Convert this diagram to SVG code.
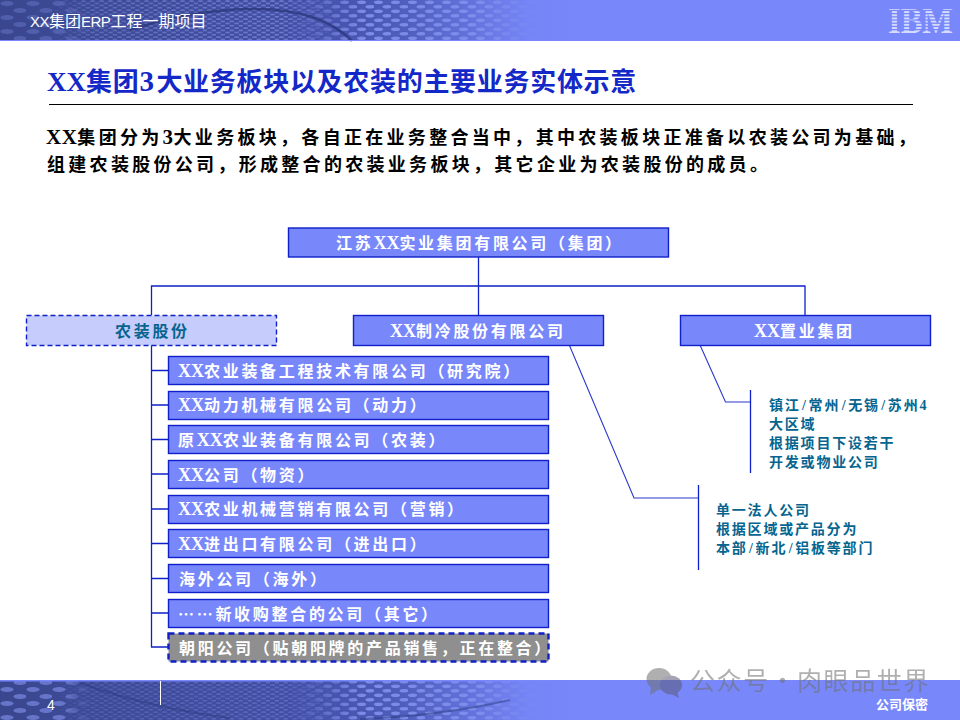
<svg xmlns="http://www.w3.org/2000/svg" width="960" height="720" viewBox="0 0 960 720">
<style>
text{font-family:"Liberation Serif","Noto Sans CJK SC",serif;font-weight:700}
.box{fill:#7888fb;stroke:#0f20c8;stroke-width:1.4}
.dash{fill:#c6ccfb;stroke:#0f20c8;stroke-width:1.4;stroke-dasharray:5 3}
.gray{fill:#8f8f8f;stroke:#0f20c8;stroke-width:2.4;stroke-dasharray:6 4}
.w{fill:#fff;font-size:16px;letter-spacing:2.7px}
.n{fill:#06658f;font-size:16px;letter-spacing:2.7px}
.x{font-size:18px;letter-spacing:0}
.t{fill:#06658f;font-size:14px;letter-spacing:1.8px}
.s{letter-spacing:2.6px}
.b{fill:#000;font-size:18px;letter-spacing:3.3px}
.bx{font-size:21px;letter-spacing:.5px}
.h{font-family:"Liberation Sans","Noto Sans CJK SC",sans-serif;font-weight:400;fill:#fff}
.l{font-size:15px;letter-spacing:-.5px}
.con{fill:none;stroke:#0f20c8;stroke-width:1.3}
.thin{fill:none;stroke:#2a38cc;stroke-width:1.1}
</style>
<defs>
<linearGradient id="bar" x1="0" x2="960" y1="0" y2="0" gradientUnits="userSpaceOnUse">
<stop offset="0" stop-color="#3a478f"/><stop offset=".3" stop-color="#414ea6"/><stop offset=".42" stop-color="#4f5dbc"/><stop offset=".55" stop-color="#7585f6"/><stop offset=".6" stop-color="#7888fb"/><stop offset="1" stop-color="#7888fb"/>
</linearGradient>
<linearGradient id="gl" x1="0" x2="90" y1="0" y2="0" gradientUnits="userSpaceOnUse"><stop offset="0" stop-color="#fff"/><stop offset=".7" stop-color="#fff"/><stop offset="1" stop-color="#000"/></linearGradient>
<linearGradient id="gm" x1="50" x2="340" y1="0" y2="0" gradientUnits="userSpaceOnUse"><stop offset="0" stop-color="#000"/><stop offset=".15" stop-color="#aaa"/><stop offset=".8" stop-color="#fff"/><stop offset="1" stop-color="#000"/></linearGradient>
<linearGradient id="gr" x1="290" x2="540" y1="0" y2="0" gradientUnits="userSpaceOnUse"><stop offset="0" stop-color="#000"/><stop offset=".3" stop-color="#fff"/><stop offset=".75" stop-color="#ccc"/><stop offset="1" stop-color="#000"/></linearGradient>
<mask id="ml"><rect width="960" height="720" fill="url(#gl)"/></mask>
<mask id="mm"><rect width="960" height="720" fill="url(#gm)"/></mask>
<mask id="mr"><rect width="960" height="720" fill="url(#gr)"/></mask>
<pattern id="big" width="26" height="14" patternUnits="userSpaceOnUse">
<ellipse cx="7" cy="3.500" rx="6.500" ry="2.500" fill="#8b9af5" fill-opacity=".55"/>
<ellipse cx="20" cy="10.500" rx="6.500" ry="2.500" fill="#8b9af5" fill-opacity=".55"/>
</pattern>
<pattern id="fine" width="9" height="4.500" patternUnits="userSpaceOnUse">
<ellipse cx="2.500" cy="1.100" rx="2.600" ry=".8" fill="#a3aff5" fill-opacity=".55"/>
<ellipse cx="7" cy="3.300" rx="2.600" ry=".8" fill="#a3aff5" fill-opacity=".55"/>
</pattern>
<pattern id="mid" width="17" height="9" patternUnits="userSpaceOnUse">
<ellipse cx="4.500" cy="2.300" rx="4.500" ry="1.800" fill="#8f9ef8" fill-opacity=".75"/>
<ellipse cx="13" cy="6.800" rx="4.500" ry="1.800" fill="#8f9ef8" fill-opacity=".75"/>
</pattern>
</defs>
<rect id="page" width="960" height="720" fill="#fff"/>
<g id="header">
<rect width="960" height="41" fill="url(#bar)"/>
<rect width="960" height="41" fill="url(#big)" mask="url(#ml)" opacity=".5"/>
<rect width="960" height="41" fill="url(#fine)" mask="url(#mm)"/>
<rect width="960" height="41" fill="url(#mid)" mask="url(#mr)"/>
<path d="M130 30Q190 10 250 9Q320 8 352 41" fill="none" stroke="#2a3678" stroke-width="2.500" stroke-opacity=".75"/>
<rect y="40" width="960" height="1" fill="#7888fb"/>
<text class="h" x="30" y="26.500" font-size="16"><tspan class="l">XX</tspan>集团<tspan class="l">ERP</tspan>工程一期项目</text>
<text x="888" y="32.500" font-size="36" fill="#d6dbff" textLength="65" lengthAdjust="spacingAndGlyphs">IBM</text>
<g fill="#7888fb"><rect x="886" y="9.800" width="70" height="1.300"/><rect x="886" y="13" width="70" height="1.300"/><rect x="886" y="16.200" width="70" height="1.300"/><rect x="886" y="19.400" width="70" height="1.300"/><rect x="886" y="22.600" width="70" height="1.300"/><rect x="886" y="25.800" width="70" height="1.300"/><rect x="886" y="29" width="70" height="1.300"/></g>
</g>
<g id="heading">
<text x="47" y="91" font-size="26" fill="#1428c8" letter-spacing=".7"><tspan font-size="27" letter-spacing="0">XX</tspan>集团<tspan font-size="29" letter-spacing="2.500">3</tspan>大业务板块以及农装的主要业务实体示意</text>
<rect x="49" y="104" width="864" height="1" fill="#000"/>
<text class="b" x="46" y="144"><tspan class="bx">XX</tspan>集团分为<tspan class="bx" letter-spacing="1">3</tspan>大业务板块，各自正在业务整合当中，其中农装板块正准备以农装公司为基础，</text>
<text class="b" x="47" y="171">组建农装股份公司，形成整合的农装业务板块，其它企业为农装股份的成员。</text>
</g>
<g id="connectors">
<path class="con" d="M478.500 257V315M151.500 315V286H805V315M151.500 345V647H168M151.500 370.500H168M151.500 405H168M151.500 439.500H168M151.500 474H168M151.500 509H168M151.500 543.500H168M151.500 578.500H168M151.500 613H168"/>
<path class="thin" d="M568 342L634 498H699"/>
<path class="thin" d="M700 345L725.500 402H750"/>
<path class="con" d="M698.500 485V570M750.500 390V473"/>
</g>
<g id="n-group"><rect class="box" x="288.500" y="228" width="380" height="29"/><text class="w" x="336" y="249">江苏<tspan class="x">XX</tspan>实业集团有限公司（集团）</text></g>
<g id="n-nz"><rect class="dash" x="26.500" y="315.500" width="250" height="30"/><text class="n" x="115" y="337">农装股份</text></g>
<g id="n-zl"><rect class="box" x="353.500" y="315.500" width="250" height="30"/><text class="w" x="390" y="337"><tspan class="x">XX</tspan>制冷股份有限公司</text></g>
<g id="n-zy"><rect class="box" x="680.500" y="315.500" width="250" height="30"/><text class="w" x="754" y="337"><tspan class="x">XX</tspan>置业集团</text></g>
<g id="c1"><rect class="box" x="168.500" y="356.500" width="380" height="28"/><text class="w" x="178" y="377"><tspan class="x">XX</tspan>农业装备工程技术有限公司（研究院）</text></g>
<g id="c2"><rect class="box" x="168.500" y="391.500" width="380" height="28"/><text class="w" x="178" y="411"><tspan class="x">XX</tspan>动力机械有限公司（动力）</text></g>
<g id="c3"><rect class="box" x="168.500" y="425.500" width="380" height="28"/><text class="w" x="178" y="446">原<tspan class="x">XX</tspan>农业装备有限公司（农装）</text></g>
<g id="c4"><rect class="box" x="168.500" y="460.500" width="380" height="28"/><text class="w" x="178" y="481"><tspan class="x">XX</tspan>公司（物资）</text></g>
<g id="c5"><rect class="box" x="168.500" y="495.500" width="380" height="28"/><text class="w" x="178" y="515"><tspan class="x">XX</tspan>农业机械营销有限公司（营销）</text></g>
<g id="c6"><rect class="box" x="168.500" y="529.500" width="380" height="28"/><text class="w" x="178" y="550"><tspan class="x">XX</tspan>进出口有限公司（进出口）</text></g>
<g id="c7"><rect class="box" x="168.500" y="564.500" width="380" height="28"/><text class="w" x="179" y="585">海外公司（海外）</text></g>
<g id="c8"><rect class="box" x="168.500" y="599.500" width="380" height="28"/><text class="w" x="178" y="620"><tspan style="font-family:'Noto Sans CJK SC',sans-serif">……</tspan>新收购整合的公司（其它）</text></g>
<g id="c9"><rect class="gray" x="168.500" y="633.500" width="380" height="28"/><text class="w" x="179" y="654">朝阳公司（贴朝阳牌的产品销售，正在整合）</text></g>
<g id="note1">
<text class="t" x="769" y="410">镇江<tspan class="s" dx="1.500">/</tspan>常州<tspan class="s" dx="1.500">/</tspan>无锡<tspan class="s" dx="1.500">/</tspan>苏州4</text>
<text class="t" x="769" y="429">大区域</text>
<text class="t" x="769" y="448">根据项目下设若干</text>
<text class="t" x="769" y="467">开发或物业公司</text>
</g>
<g id="note2">
<text class="t" x="716" y="515">单一法人公司</text>
<text class="t" x="716" y="534">根据区域或产品分为</text>
<text class="t" x="716" y="553">本部<tspan class="s" dx="1.500">/</tspan>新北<tspan class="s" dx="1.500">/</tspan>铝板等部门</text>
</g>
<g id="footer">
<rect y="680" width="960" height="40" fill="url(#bar)"/>
<rect y="681" width="960" height="39" fill="url(#big)" mask="url(#ml)"/>
<rect y="681" width="960" height="39" fill="url(#fine)" mask="url(#mm)" opacity=".6"/>
<rect y="681" width="960" height="39" fill="url(#mid)" mask="url(#mr)"/>
<path d="M80 683Q150 708 230 718M360 719Q440 716 510 700" fill="none" stroke="#2c3a80" stroke-width="2" stroke-opacity=".5"/>
<rect y="680" width="960" height="1.500" fill="#7888fb"/>
<rect x="160" y="681" width="1" height="24" fill="#fff"/>
<text class="h" x="47" y="710" font-size="14">4</text>
<text class="h" x="876" y="709" font-size="13" style="font-weight:700">公司保密</text>
</g>
<g id="watermark" opacity=".55" fill="#6f6f6f">
<ellipse cx="659" cy="679" rx="12.500" ry="11"/><path d="M651 686l-1 9 8-5z"/>
<ellipse cx="671" cy="685" rx="11" ry="9.500" fill="#5a5a78"/><path d="M677 691l2 7-8-4z" fill="#5a5a78"/>
<text y="690" font-size="25" letter-spacing="1.600" style="font-family:'Noto Sans CJK SC',sans-serif;font-weight:400"><tspan x="690">公众号</tspan><tspan x="770">·</tspan><tspan x="797">肉眼品世界</tspan></text>
</g>
</svg>
